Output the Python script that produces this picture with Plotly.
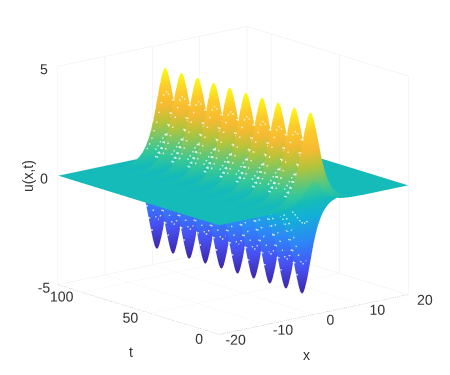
import numpy as np
import plotly.graph_objects as go

# Values
x_ticks = [-20, -10, 0, 10, 20]
x_tick_text = ['-20', '-10', '0', '10', '20']
t_ticks = [0, 50, 100]
t_tick_text = ['0', '50', '100']
z_ticks = [-5, 0, 5]
z_tick_text = ['-5', '0', '5']
x_limits = [-20, 20]
t_limits = [0, 117.6]
z_limits = [-5, 5]
amplitude = 4.2
# cross-section height relative to the crest, for |x| = 0, 0.25, ... 10
profile_abs_x = [1.000, .989, .958, .909, .849, .779, .707, .634, .563, .497, .438, .382, .332, .289,
                 .251, .218, .188, .163, .141, .122, .105, .091, .079, .068, .059, .051, .044, .038,
                 .032, .028, .024, .021, .018, .016, .013, .011, .010, .009, .007, .006, .005]
# one oscillation in t, sampled every 0.49, beginning at t = 0
wave_one_period = [.259, .5, .707, .866, .966, 1.0, .966, .866, .707, .5, .259, 0,
                   -.259, -.5, -.707, -.866, -.966, -1.0, -.966, -.866, -.707, -.5, -.259, 0]
wave_periods = 10
t_step = 0.49
x_step = 0.25

parula = [[0.0, '#3e26a8'], [0.143, '#4752f4'], [0.286, '#2d87f7'], [0.429, '#12b1d6'], [0.5, '#14bbb8'],
          [0.571, '#37c897'], [0.714, '#b6c43a'], [0.8, '#f5ba32'], [0.9, '#fdcb2c'], [1.0, '#f9fb14']]

half = np.array(profile_abs_x)
prof_right = np.concatenate([half, np.zeros(int(10 / x_step))])
profile = np.concatenate([prof_right[::-1], prof_right[1:]])
x = x_limits[0] + x_step * np.arange(profile.size)
wave = np.array(wave_one_period * wave_periods)
t = t_step * np.arange(wave.size)
Z = amplitude * np.outer(wave, profile)

fig = go.Figure()
fig.add_trace(go.Surface(x=x, y=t, z=Z, surfacecolor=Z, colorscale=parula, cmin=-amplitude, cmax=amplitude, showscale=False,
                         hoverinfo='skip', lighting=dict(ambient=1, diffuse=0, specular=0, roughness=1, fresnel=0)))

# white gaps of the mesh on the steep flanks, lifted towards the viewer
rows, cols = np.indices(Z.shape)
level = np.abs(Z) / amplitude
gaps = (level > 0.1) & (level < 0.85) & (x[cols] < 1) & (rows % 2 == 0) & (cols % 2 == 0)
fig.add_trace(go.Scatter3d(x=x[cols[gaps]] - 0.5, y=t[rows[gaps]] - 1.0, z=Z[gaps] + 0.2, mode='markers', hoverinfo='skip', showlegend=False,
                           marker=dict(color='white', size=1.0, opacity=0.7, line=dict(width=0))))

x0, x1 = x_limits
t0, t1 = t_limits
z0, z1 = z_limits
fig.add_trace(go.Scatter3d(x=[x0, x0, x1], y=[t1, t0, t0], z=[z0, z0, z0], mode='lines', hoverinfo='skip',
                           showlegend=False, line=dict(color='#8c8c8c', width=1, dash='dot')))
fig.add_trace(go.Scatter3d(x=[x0, x1, x1], y=[t1, t1, t0], z=[z1, z1, z1], mode='lines', hoverinfo='skip',
                           showlegend=False, line=dict(color='#e2e2e2', width=1, dash='dot')))

ax = dict(showbackground=False, showgrid=True, gridcolor='#ededed', gridwidth=1, zeroline=False, showline=False,
          showspikes=False, tickfont=dict(family='Liberation Sans', size=13, color='#333333'),
          ticks='outside', ticklen=8, tickcolor='rgba(0,0,0,0)', tickangle=0,
          title=dict(text=''), tickmode='array')
title_font = dict(family='Liberation Sans', size=14, color='#333333')
anno = dict(xref='paper', yref='paper', showarrow=False, font=title_font, xanchor='center', yanchor='middle')
fig.update_layout(
    width=450, height=375, margin=dict(l=0, r=0, t=0, b=0), paper_bgcolor='white', showlegend=False,
    annotations=[
        dict(anno, text='t', x=123 / 450, y=1 - 344 / 375),
        dict(anno, text='x', x=298 / 450, y=1 - 347 / 375),
        dict(anno, text='u(x,t)', x=20 / 450, y=1 - 168 / 375, textangle=-90),
    ],
    scene=dict(
        domain=dict(x=[0, 1], y=[0, 1]),
        xaxis=dict(ax, range=x_limits, tickvals=x_ticks, ticktext=x_tick_text),
        yaxis=dict(ax, range=t_limits, tickvals=t_ticks, ticktext=t_tick_text),
        zaxis=dict(ax, range=z_limits, tickvals=z_ticks, ticktext=z_tick_text, ticks='', ticklen=0),
        aspectmode='manual', aspectratio=dict(x=1.31, y=1.35, z=1.205),
        camera=dict(eye=dict(x=-.616 * 2, y=-.745 * 2, z=.255 * 2 - .083), up=dict(x=0, y=0, z=1),
                    center=dict(x=0, y=0, z=-.083), projection=dict(type='orthographic')),
    ))
fig.write_html('out.html')
